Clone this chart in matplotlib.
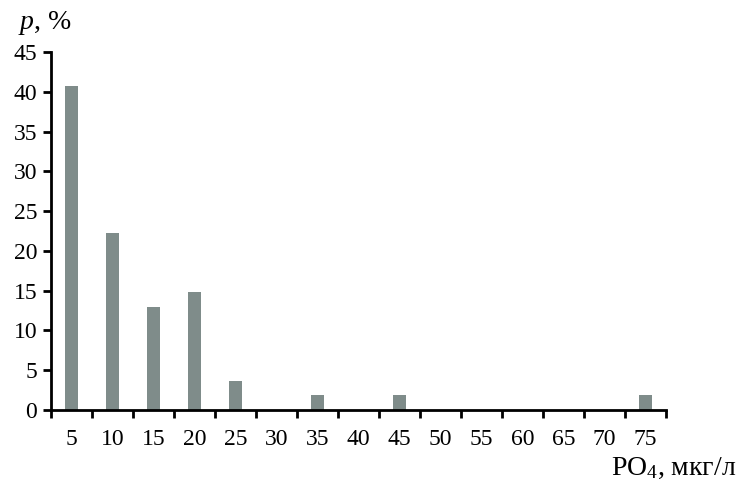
import matplotlib
matplotlib.use("Agg")
import matplotlib.pyplot as plt
import numpy as np

categories = ["5", "10", "15", "20", "25", "30", "35", "40", "45", "50", "55", "60", "65", "70", "75"]
values = [40.7, 22.2, 13.0, 14.8, 3.7, 0, 1.85, 0, 1.85, 0, 0, 0, 0, 0, 1.85]
yticks = [0, 5, 10, 15, 20, 25, 30, 35, 40, 45]

plt.rcParams['font.family'] = ['Liberation Serif', 'DejaVu Serif']
plt.rcParams['mathtext.fontset'] = 'custom'
plt.rcParams['mathtext.rm'] = 'Liberation Serif'
plt.rcParams['mathtext.it'] = 'Liberation Serif:italic'

fig = plt.figure(figsize=(7.43, 4.84), dpi=100)
ax = fig.add_axes([0.0686, 0.153, 0.8274, 0.7396])

x = np.arange(len(categories))
ax.bar(x, values, width=0.32, color='#7f8c8a', zorder=2)
ax.set_xlim(-0.5, len(categories) - 0.5)
ax.set_ylim(0, 45)
ax.set_yticks(yticks)
ax.set_yticklabels([str(v) for v in yticks])
ax.set_xticks(x)
ax.set_xticklabels(categories)
ax.set_xticks(np.arange(-0.5, len(categories)), minor=True)
ax.tick_params(axis='x', which='major', length=0, pad=14, labelsize=17)
ax.tick_params(axis='x', which='minor', length=6, width=2, direction='out')
ax.tick_params(axis='y', which='major', length=6, width=2, direction='out', labelsize=17, pad=4)

for s in ['top', 'right']:
    ax.spines[s].set_visible(False)
for s in ['left', 'bottom']:
    ax.spines[s].set_linewidth(2)
    ax.spines[s].set_color('black')

fig.text(0.024, 0.953, "$\\it{p}$, %", fontsize=20, ha='left', va='center')
fig.text(0.822, 0.033, "PO$_4$, мкг/л", fontsize=20, ha='left', va='center')

fig.savefig("out.png", dpi=100)
